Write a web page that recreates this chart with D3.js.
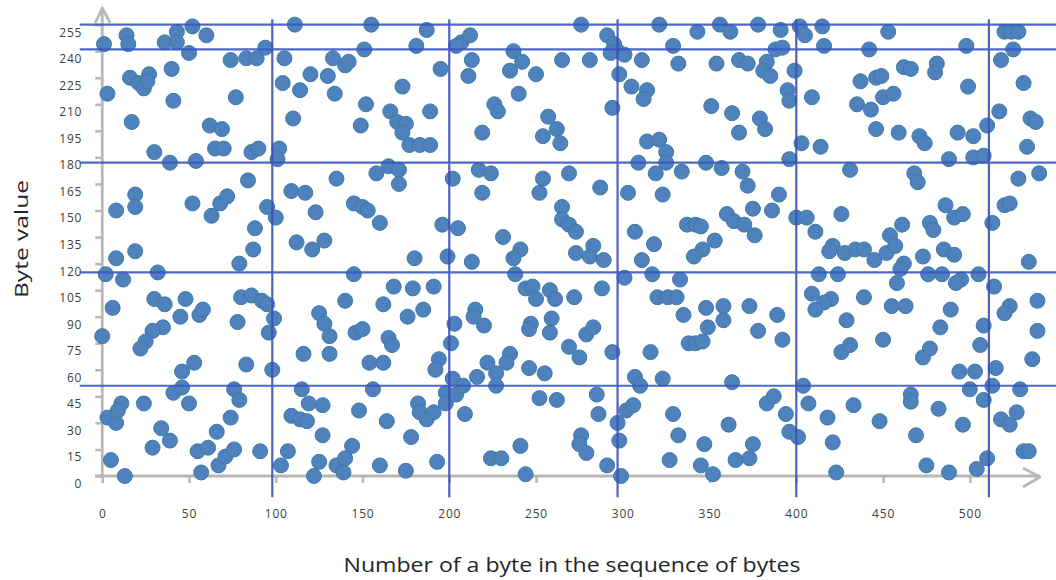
<!DOCTYPE html>
<html><head><meta charset="utf-8">
<script src="https://cdn.jsdelivr.net/npm/d3@7/dist/d3.min.js"></script>
<style>html,body{margin:0;padding:0;background:#fff;}svg{display:block;}</style>
</head><body>
<script>
// Byte index / byte value pairs, grouped by region of the chart
const bytesA = [[1,244],[14,249],[15,244],[36,245],[43,251],[43,245],[52,254],[60,249],[50,239],[3,216],[16,225],[21,222],[27,227],[24,219],[26,223],[40,230],[41,212],[17,200],[74,235],[83,236],[89,236],[94,242],[77,214],[62,198],[69,196],[30,183],[39,177],[54,178],[65,185],[70,185],[86,183],[90,185],[102,185],[101,179],[84,167],[105,236],[111,255],[104,222],[114,218],[110,202],[120,227],[130,226],[133,236],[134,216],[135,168]];
const bytesB = [[155,255],[187,252],[151,241],[181,243],[140,232],[142,234],[195,230],[173,220],[152,210],[149,198],[166,206],[170,200],[175,199],[173,194],[177,187],[183,187],[189,187],[189,206],[207,245],[212,249],[204,243],[213,235],[211,226],[237,240],[242,234],[235,229],[250,227],[265,235],[281,235],[276,255],[240,216],[226,210],[228,206],[219,194],[257,203],[262,196],[254,192],[264,188],[291,249],[295,244],[297,240],[293,239],[301,238],[311,235],[321,255],[329,243],[332,233],[298,227],[305,220],[314,218],[312,213],[294,208],[314,189],[321,190],[325,183],[309,177],[325,177],[334,172],[319,171],[158,171],[165,175],[171,173],[171,165],[202,168],[217,173],[224,171],[254,168],[269,171],[287,163]];
const bytesC = [[343,251],[356,255],[362,251],[378,255],[391,252],[402,254],[405,249],[415,254],[416,243],[388,241],[392,242],[354,233],[367,235],[372,233],[383,234],[381,229],[385,226],[399,229],[395,218],[396,212],[409,214],[351,209],[363,205],[379,202],[382,196],[367,194],[403,188],[414,186],[396,179],[348,177],[357,174],[369,172],[372,164],[442,241],[453,251],[437,223],[446,225],[449,226],[462,231],[466,230],[435,210],[443,207],[450,214],[456,216],[481,233],[480,228],[498,243],[499,220],[446,196],[459,194],[471,192],[474,188],[493,194],[502,192],[510,198],[488,179],[502,180],[508,181],[468,171],[470,166],[431,173],[518,235],[520,251],[524,251],[528,251],[525,241],[531,222],[517,206],[535,202],[538,200],[533,186],[528,168],[540,171]];
const bytesD = [[19,159],[19,152],[8,150],[8,123],[19,127],[2,114],[12,111],[32,115],[6,95],[0,79],[30,100],[36,97],[35,84],[29,82],[25,76],[22,72],[48,100],[45,90],[56,91],[58,94],[46,59],[53,64],[52,154],[63,147],[68,154],[72,158],[79,120],[87,128],[88,140],[95,152],[100,146],[80,101],[86,102],[92,99],[95,97],[78,87],[99,89],[96,81],[83,63],[98,60],[109,161],[117,160],[112,132],[121,128],[128,133],[123,149],[116,69],[125,92],[128,86],[131,79],[131,69]];
const bytesE = [[145,154],[150,152],[153,150],[160,143],[140,99],[180,123],[196,142],[205,140],[199,124],[213,121],[219,160],[145,114],[168,107],[179,106],[191,107],[162,97],[176,90],[185,94],[146,81],[150,83],[165,78],[167,74],[154,64],[162,64],[194,66],[192,60],[203,86],[201,75],[215,94],[214,90],[220,85],[202,55],[231,135],[241,128],[237,123],[238,114],[252,160],[265,152],[265,145],[269,142],[273,138],[273,126],[283,130],[281,124],[289,122],[244,106],[248,107],[250,100],[258,105],[261,100],[272,101],[288,106],[247,86],[246,83],[259,89],[258,81],[279,80],[283,84],[269,73],[275,67],[294,70],[235,69],[233,64],[246,61],[255,58],[222,64],[216,56],[227,58],[303,160],[323,159],[307,138],[318,131],[311,122],[301,112],[317,114],[337,142],[333,111],[320,101],[326,101],[331,101],[335,91],[316,70],[338,75],[307,56],[323,55]];
const bytesF = [[342,142],[345,141],[390,159],[360,148],[375,151],[386,150],[364,144],[370,142],[376,136],[353,133],[346,128],[341,124],[400,146],[406,146],[411,138],[426,148],[421,130],[419,127],[428,126],[434,128],[439,128],[445,122],[452,126],[454,136],[461,142],[457,130],[462,120],[460,117],[473,124],[477,143],[479,139],[486,153],[491,146],[496,148],[485,128],[491,125],[513,143],[520,153],[523,154],[534,121],[413,114],[424,114],[476,114],[484,114],[505,114],[495,111],[492,109],[458,109],[514,107],[409,103],[420,100],[416,98],[411,94],[439,101],[455,96],[463,96],[429,88],[489,94],[483,84],[508,85],[506,74],[523,96],[520,92],[539,99],[539,82],[536,66],[515,61],[494,59],[503,59],[450,77],[473,67],[477,72],[426,70],[431,74],[392,77],[378,82],[389,91],[373,96],[358,96],[348,95],[358,88],[349,84],[342,75],[346,76]];
const bytesG = [[41,47],[46,50],[50,41],[3,33],[8,30],[11,41],[9,37],[24,41],[34,27],[39,20],[29,16],[5,9],[13,0],[55,14],[61,16],[66,25],[57,2],[67,6],[71,11],[76,15],[74,33],[76,49],[79,43],[91,14],[103,6],[107,14],[115,49],[119,41],[127,40],[109,34],[114,32],[118,31],[127,23],[125,8],[122,0],[135,6]];
const bytesH = [[156,49],[148,37],[164,31],[139,2],[140,10],[144,17],[160,6],[175,3],[178,22],[182,41],[183,36],[187,32],[191,36],[193,8],[198,47],[198,41],[204,46],[209,35],[208,51],[227,51],[224,10],[230,10],[241,17],[244,1],[252,44],[262,43],[285,46],[286,35],[276,23],[275,18],[279,13],[291,6],[297,30],[298,20],[299,0],[302,37],[306,40],[310,51],[329,35],[332,23],[327,9]];
const bytesI = [[345,6],[352,1],[347,18],[361,29],[365,9],[373,10],[375,18],[363,53],[383,41],[387,45],[394,35],[396,25],[401,22],[404,51],[407,41],[418,33],[421,19],[423,2],[433,40],[448,31],[466,46],[466,42],[469,23],[475,6],[482,38],[488,2],[496,29],[500,49],[508,43],[504,4],[510,10],[518,32],[523,29],[527,36],[529,49],[531,14],[534,14],[513,51]];

const xTicks = [0,50,100,150,200,250,300,350,400,450,500];
const yTicks = [0,15,30,45,60,75,90,105,120,135,150,165,180,195,210,225,240,255];
const vLines = [98,200,297,400,511];
const hLines = [255,241,177,115,51];
const xTitle = "Number of a byte in the sequence of bytes";
const yTitle = "Byte value";

const points = [].concat(bytesA,bytesB,bytesC,bytesD,bytesE,bytesF,bytesG,bytesH,bytesI);

const W = 1056, H = 580;
const svg = d3.select("body").append("svg").attr("width",W).attr("height",H);

const x = d3.scaleLinear().domain([0,540]).range([102.25, 1039.2]);
const y = d3.scaleLinear().domain([0,255]).range([476, 24.65]);

const axisColor = "#b8b8b8";
const font = "'Open Sans', 'DejaVu Sans', sans-serif";

// axes (ticks + labels) via d3
const gx = svg.append("g").attr("transform",`translate(0,${y(0)})`)
  .call(d3.axisBottom(x).tickValues(xTicks).tickSize(7).tickSizeOuter(0).tickPadding(26));
const gy = svg.append("g").attr("transform",`translate(${x(0)},0)`)
  .call(d3.axisLeft(y).tickValues(yTicks).tickSize(7).tickSizeOuter(0).tickPadding(13));
[gx,gy].forEach(g=>{
  g.select(".domain").remove();
  g.selectAll(".tick line").attr("stroke",axisColor).attr("stroke-width",2.5);
  g.selectAll(".tick text").attr("fill","#404040").style("font-family",font).style("font-size","12px").style("letter-spacing","0.8px");
});
gy.selectAll(".tick text").attr("dy","0.95em");

// axis lines with open arrowheads
const ax = svg.append("g").attr("fill","none").attr("stroke",axisColor).attr("stroke-width",2.8).attr("stroke-linejoin","round");
ax.append("line").attr("x1",x(0)).attr("x2",x(0)).attr("y1",y(0)+1).attr("y2",8);
ax.append("path").attr("d",`M${x(0)-7},23 L${x(0)},8 L${x(0)+8},23`);
ax.append("line").attr("x1",x(0)-7).attr("x2",1040).attr("y1",y(0)).attr("y2",y(0));
ax.append("path").attr("d",`M1023,468 L1040,477 L1023,487`);

// points
svg.append("g").selectAll("circle").data(points).join("circle")
  .attr("cx",d=>x(d[0])).attr("cy",d=>y(d[1])).attr("r",7.5)
  .attr("fill","#4f81bd").attr("stroke","#3d7ba6").attr("stroke-width",1);

// overlay grid lines
const gl = svg.append("g").attr("stroke-width",2.2).attr("opacity",0.9);
gl.selectAll("line.h").data(hLines).join("line").attr("class","h")
  .attr("x1",x(-13)).attr("x2",W).attr("y1",d=>y(d)).attr("y2",d=>y(d)).attr("stroke","#3a58c2");
gl.selectAll("line.v").data(vLines).join("line").attr("class","v")
  .attr("x1",d=>x(d)).attr("x2",d=>x(d)).attr("y1",y(258)).attr("y2",y(-12)).attr("stroke","#3c50bb");

// titles
svg.append("text").attr("x",572).attr("y",572).attr("text-anchor","middle")
  .attr("textLength",457).attr("lengthAdjust","spacingAndGlyphs")
  .style("font-family",font).style("font-size","20px").attr("fill","#262626").text(xTitle);
svg.append("text").attr("transform","translate(28,239) rotate(-90)").attr("text-anchor","middle")
  .attr("textLength",118).attr("lengthAdjust","spacingAndGlyphs")
  .style("font-family",font).style("font-size","18px").attr("fill","#262626").text(yTitle);
</script>
</body></html>
